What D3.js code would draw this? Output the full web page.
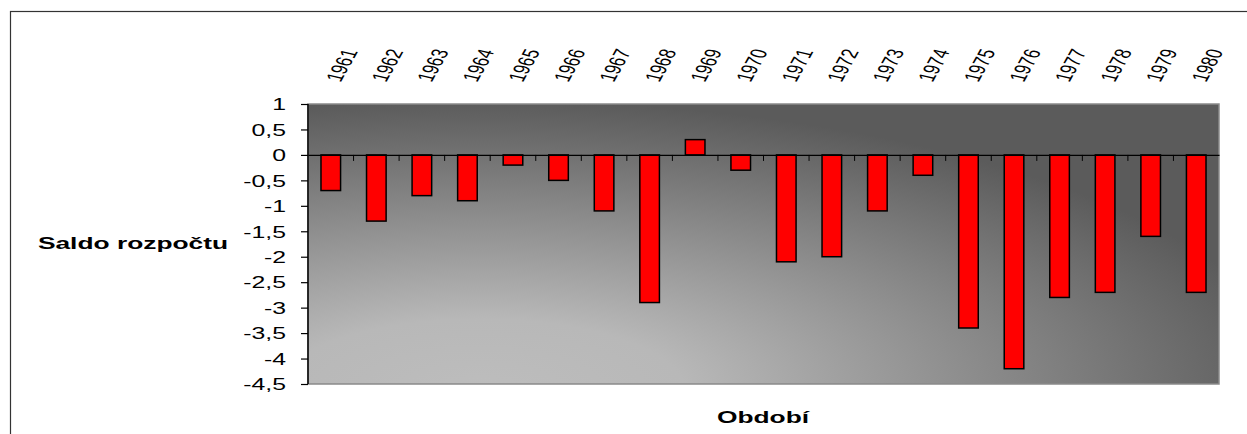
<!DOCTYPE html>
<html><head><meta charset="utf-8">
<script src="https://cdn.jsdelivr.net/npm/d3@7"></script>
<style>html,body{margin:0;padding:0;background:#fff;}svg{display:block;}</style>
</head><body>
<svg id="chart" width="1247" height="434"></svg>
<script>
const years = ["1961","1962","1963","1964","1965","1966","1967","1968","1969","1970","1971","1972","1973","1974","1975","1976","1977","1978","1979","1980"];
const saldo = [-0.7,-1.3,-0.8,-0.9,-0.2,-0.5,-1.1,-2.9,0.3,-0.3,-2.1,-2.0,-1.1,-0.4,-3.4,-4.2,-2.8,-2.7,-1.6,-2.7];
const yTicks = [1,0.5,0,-0.5,-1,-1.5,-2,-2.5,-3,-3.5,-4,-4.5];
const yTitle = "Saldo rozpočtu";
const xTitle = "Období";

const svg = d3.select("#chart");
const font = "'Liberation Sans', Arial, sans-serif";
const SX = 1.55;
const L = 308, R = 1219, T = 104, B = 384;

// outer frame
svg.append("rect").attr("x",10.5).attr("y",11.5).attr("width",1240).attr("height",430)
  .attr("fill","#fff").attr("stroke","#333").attr("stroke-width",1.2);

const defs = svg.append("defs");
const grad = defs.append("radialGradient").attr("id","bg")
  .attr("gradientUnits","userSpaceOnUse").attr("cx",0).attr("cy",0).attr("r",1)
  .attr("gradientTransform","translate(480,392) scale(820,292)");
grad.append("stop").attr("offset",0).attr("stop-color","#bdbdbd");
grad.append("stop").attr("offset",0.25).attr("stop-color","#b8b8b8");
grad.append("stop").attr("offset",1).attr("stop-color","#5b5b5b");

const x = d3.scaleBand().domain(years).range([L,R]).paddingInner(0.57).paddingOuter(0.285);
const xb = d3.scaleBand().domain(years).range([L,R]);
const y = d3.scaleLinear().domain([-4.5,1]).range([B,T]);

svg.append("rect").attr("x",L).attr("y",T).attr("width",R-L).attr("height",B-T)
  .attr("fill","url(#bg)").attr("stroke","#8a8a8a").attr("stroke-width",1.5);

// bars
svg.append("g").selectAll("rect").data(years).join("rect")
  .attr("x",d=>x(d))
  .attr("width",x.bandwidth())
  .attr("y",(d,i)=>y(Math.max(0,saldo[i])))
  .attr("height",(d,i)=>Math.abs(y(saldo[i])-y(0)))
  .attr("fill","#ff0000").attr("stroke","#000").attr("stroke-width",1.5);

// zero axis with category ticks
const zeroAxis = d3.axisBottom(xb).tickSize(0).tickFormat("");
const zg = svg.append("g").attr("transform",`translate(0,${y(0)})`).call(zeroAxis);
zg.select(".domain").attr("stroke","#000").attr("stroke-width",1.2);
zg.selectAll(".tick").remove();
zg.selectAll("line.bt").data(years.slice(1)).join("line").attr("class","bt")
  .attr("x1",d=>xb(d)).attr("x2",d=>xb(d)).attr("y1",0).attr("y2",6)
  .attr("stroke","#000").attr("stroke-width",1);

// y axis
const yAxis = d3.axisLeft(y).tickValues(yTicks).tickSize(7).tickFormat(d=>String(d).replace(".",",")).tickPadding(0);
const yg = svg.append("g").attr("transform",`translate(${L},0)`).call(yAxis);
yg.select(".domain").attr("stroke","#000").attr("stroke-width",1.5).attr("d",`M0,${T}V${B}`);
yg.selectAll(".tick line").attr("stroke","#000").attr("stroke-width",1.2);
yg.selectAll(".tick text").remove();
yg.selectAll(".tick").append("text")
  .attr("transform",`translate(-22,0) scale(${SX},1)`)
  .attr("text-anchor","end").attr("dy","0.36em")
  .attr("fill","#000").style("font-family",font).style("font-size","16px")
  .text(d=>String(d).replace(".",","));

// year labels
svg.append("g").selectAll("text").data(years).join("text")
  .attr("transform",d=>`translate(${xb(d)+xb.bandwidth()/2+2},81) scale(${SX},1) rotate(-70)`)
  .attr("text-anchor","start").attr("dy","0.35em")
  .style("font-family",font).style("font-size","15px").attr("fill","#000")
  .text(d=>d);

// titles
svg.append("text").attr("transform",`translate(133,249) scale(${SX},1)`)
  .attr("text-anchor","middle").style("font-family",font).style("font-size","17px")
  .style("font-weight","bold").text(yTitle);
svg.append("text").attr("transform",`translate(763,423) scale(${SX},1)`)
  .attr("text-anchor","middle").style("font-family",font).style("font-size","17px")
  .style("font-weight","bold").text(xTitle);
</script>
</body></html>
